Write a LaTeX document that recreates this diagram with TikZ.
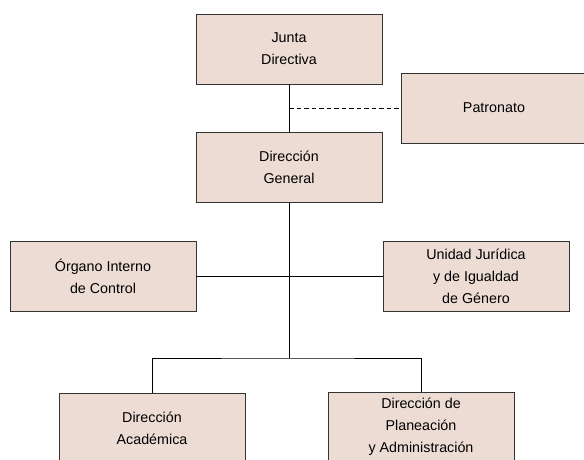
\documentclass[tikz,border=0pt]{standalone}
\usepackage{fontspec}
\setmainfont{Liberation Sans}
\usepackage{xcolor}
\usetikzlibrary{calc}
\definecolor{boxfill}{HTML}{EDDCD4}
\definecolor{boxline}{HTML}{333333}

\begin{document}
\begin{tikzpicture}[x=1pt,y=-1pt,
  font=\fontsize{14.3}{22}\selectfont,
  unit/.style={draw=boxline,fill=boxfill,line width=0.9pt,align=center,
    minimum width=186pt,minimum height=70pt,inner sep=0pt},
  link/.style={draw=black,line width=0.9pt}]
  \clip (0,0) rectangle (584,459);
  \node[unit] (junta) at (289,49) {Junta\\Directiva};
  \node[unit] (patronato) at (494,108) {Patronato};
  \node[unit] (general) at (289,167) {Dirección\\General};
  \node[unit] (organo) at (103,276) {Órgano Interno\\de Control};
  \node[unit] (unidad) at (476,276) {Unidad Jurídica\\y de Igualdad\\de Género};
  \node[unit] (academica) at (152,428) {Dirección\\Académica};
  \node[unit] (planeacion) at (421,427) {Dirección de\\Planeación\\y Administración};
  \coordinate (tie) at (289,108);
  \coordinate (fork) at (289,358);
  \draw[link] (junta.south) -- (general.north);
  \draw[link,line width=0.7pt,dash pattern=on 4.5pt off 3pt] (tie) -- (patronato.west);
  \draw[link] (general.south) -- (fork);
  \draw[link] (organo.east) -- (unidad.west);
  \draw[link] (academica.north) |- (fork) -| (planeacion.north);
\end{tikzpicture}
\end{document}
